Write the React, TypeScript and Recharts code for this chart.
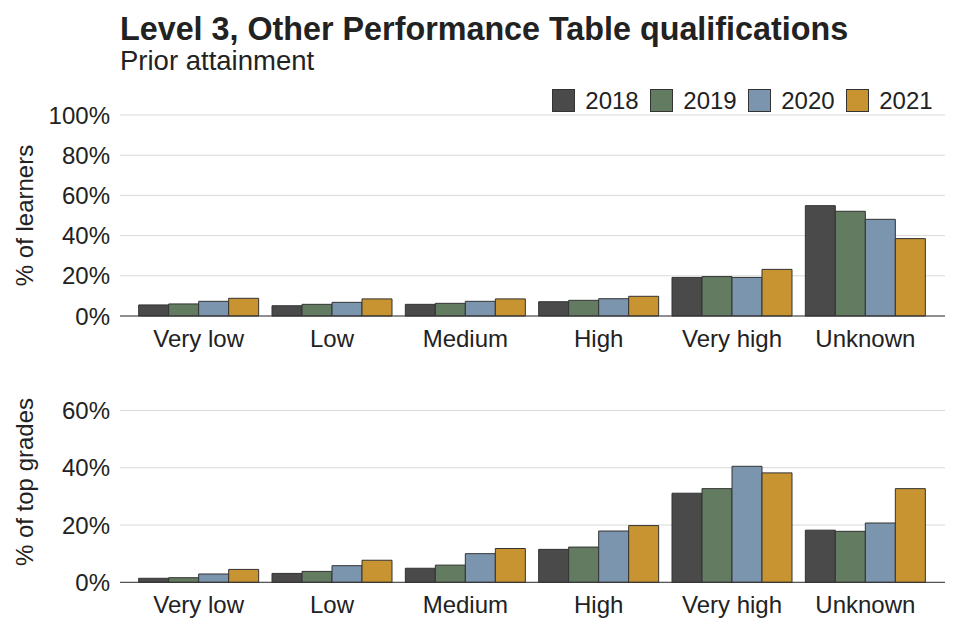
import React from 'react';
import { BarChart, Bar, XAxis, YAxis, CartesianGrid, Legend } from 'recharts';

const categories = ['Very low', 'Low', 'Medium', 'High', 'Very high', 'Unknown'];
const years = ['2018', '2019', '2020', '2021'];
const colors = ['#4a4a4a', '#637b61', '#7b95af', '#c79431'];

// % of learners
const learners2018 = [5.5, 5.1, 5.8, 7.1, 19.2, 54.9];
const learners2019 = [6.0, 5.8, 6.3, 7.8, 19.6, 52.1];
const learners2020 = [7.3, 6.8, 7.3, 8.6, 19.2, 48.1];
const learners2021 = [8.8, 8.5, 8.5, 9.8, 23.2, 38.5];

// % of top grades
const top2018 = [1.4, 3.1, 4.9, 11.5, 31.1, 18.2];
const top2019 = [1.6, 3.8, 6.0, 12.3, 32.7, 17.8];
const top2020 = [2.9, 5.8, 10.0, 17.9, 40.5, 20.7];
const top2021 = [4.5, 7.7, 11.8, 19.8, 38.2, 32.7];

const learnerTicks = [0, 20, 40, 60, 80, 100];
const learnerMax = 100;
const topTicks = [0, 20, 40, 60];
const topMax = 70;

const buildRows = (series: number[][]) =>
  categories.map((c, i) => {
    const row: Record<string, string | number> = { category: c };
    years.forEach((y, j) => {
      row[y] = series[j][i];
    });
    return row;
  });

const learnersData = buildRows([learners2018, learners2019, learners2020, learners2021]);
const topData = buildRows([top2018, top2019, top2020, top2021]);

const FONT = '"Liberation Sans", Arial, sans-serif';
const TEXT = '#222222';

const pct = (v: number) => `${v}%`;

const yLabel = (text: string) => (props: any) => {
  const vb = props.viewBox || {};
  const cy = (vb.y || 0) + (vb.height || 0) / 2;
  const x = 33;
  return (
    <text
      x={x}
      y={cy}
      transform={`rotate(-90, ${x}, ${cy})`}
      textAnchor="middle"
      fontSize={24}
      fontFamily={FONT}
      fill={TEXT}
    >
      {text}
    </text>
  );
};

// grid lines only at the tick values (not at the domain top)
const gridGen = (ticks: number[], max: number) => (props: any) => {
  const scale = props && props.yAxis && props.yAxis.scale;
  if (typeof scale === 'function') return ticks.map((t) => scale(t));
  if (scale && typeof scale.map === 'function') return ticks.map((t) => scale.map(t));
  const off = (props && props.offset) || {};
  const top = off.top || 0;
  const h = off.height || 0;
  return ticks.map((t) => top + h * (1 - t / max));
};

const LegendContent = () => (
  <div style={{ display: 'flex', fontFamily: FONT, fontSize: 24, color: TEXT, lineHeight: '23px' }}>
    {years.map((y, i) => (
      <div key={y} style={{ display: 'flex', alignItems: 'flex-start', marginRight: i < years.length - 1 ? 11.6 : 0 }}>
        <span
          style={{
            display: 'inline-block',
            width: 23,
            height: 23,
            boxSizing: 'border-box',
            background: colors[i],
            border: '1px solid #333',
            marginRight: 10,
          }}
        />
        <span>{y}</span>
      </div>
    ))}
  </div>
);

const renderBars = () =>
  years.map((y, i) => (
    <Bar
      key={y}
      dataKey={y}
      fill={colors[i]}
      stroke="#333333"
      strokeWidth={1}
      isAnimationActive={false}
    />
  ));

const axisTick = { fontSize: 24, fontFamily: FONT, fill: TEXT };

export default function App() {
  return (
    <div style={{ position: 'absolute', left: 0, top: 0, width: 960, height: 640, background: '#fff', fontFamily: FONT }}>
      <div
        style={{
          position: 'absolute',
          left: 120,
          top: 12.7,
          fontSize: 32.3,
          lineHeight: '32.3px',
          fontWeight: 'bold',
          color: TEXT,
          whiteSpace: 'nowrap',
        }}
      >
        Level 3, Other Performance Table qualifications
      </div>
      <div
        style={{
          position: 'absolute',
          left: 120,
          top: 46.7,
          fontSize: 27.5,
          lineHeight: '27.5px',
          color: TEXT,
          whiteSpace: 'nowrap',
        }}
      >
        Prior attainment
      </div>

      <div style={{ position: 'absolute', left: 0, top: 0 }}>
        <BarChart
          width={960}
          height={360}
          data={learnersData}
          margin={{ top: 115, right: 15, left: 0, bottom: 4 }}
          barCategoryGap="5%"
          barGap={0}
        >
          <CartesianGrid
            vertical={false}
            stroke="#d9d9d9"
            strokeWidth={1}
            horizontalCoordinatesGenerator={gridGen(learnerTicks, learnerMax)}
          />
          <XAxis
            dataKey="category"
            height={40}
            tickLine={false}
            tickSize={0}
            tickMargin={13.5}
            axisLine={{ stroke: '#333333', strokeWidth: 1 }}
            tick={axisTick}
            padding={{ left: 12, right: 13 }}
            interval={0}
          />
          <YAxis
            width={120}
            domain={[0, learnerMax]}
            ticks={learnerTicks}
            tickFormatter={pct}
            tickLine={false}
            tickSize={0}
            tickMargin={10}
            axisLine={false}
            tick={axisTick}
            interval={0}
            label={yLabel('% of learners')}
          />
          <Legend
            layout="horizontal"
            verticalAlign="middle"
            align="center"
            content={<LegendContent />}
            wrapperStyle={{ position: 'absolute', left: 552.3, top: 89.3, width: 'auto', height: 23 }}
          />
          {renderBars()}
        </BarChart>
      </div>

      <div style={{ position: 'absolute', left: 0, top: 360 }}>
        <BarChart
          width={960}
          height={280}
          data={topData}
          margin={{ top: 21.8, right: 15, left: 0, bottom: 17.7 }}
          barCategoryGap="5%"
          barGap={0}
        >
          <CartesianGrid
            vertical={false}
            stroke="#d9d9d9"
            strokeWidth={1}
            horizontalCoordinatesGenerator={gridGen(topTicks, topMax)}
          />
          <XAxis
            dataKey="category"
            height={40}
            tickLine={false}
            tickSize={0}
            tickMargin={13.5}
            axisLine={{ stroke: '#333333', strokeWidth: 1 }}
            tick={axisTick}
            padding={{ left: 12, right: 13 }}
            interval={0}
          />
          <YAxis
            width={120}
            domain={[0, topMax]}
            ticks={topTicks}
            tickFormatter={pct}
            tickLine={false}
            tickSize={0}
            tickMargin={10}
            axisLine={false}
            tick={axisTick}
            interval={0}
            label={yLabel('% of top grades')}
          />
          {renderBars()}
        </BarChart>
      </div>
    </div>
  );
}
